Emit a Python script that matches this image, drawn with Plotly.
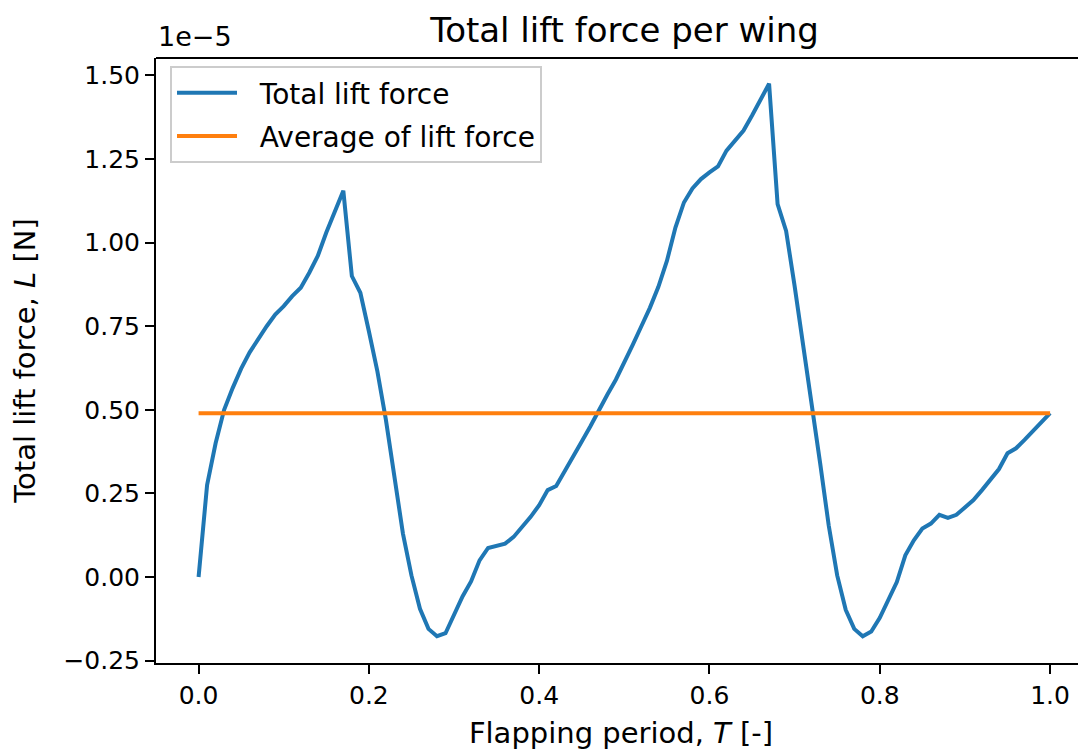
import plotly.graph_objects as go

# Flapping period samples
period = [0.00, 0.01, 0.02, 0.03, 0.04, 0.05, 0.06, 0.07, 0.08, 0.09,
          0.10, 0.11, 0.12, 0.13, 0.14, 0.15, 0.16, 0.17, 0.18, 0.19,
          0.20, 0.21, 0.22, 0.23, 0.24, 0.25, 0.26, 0.27, 0.28, 0.29,
          0.30, 0.31, 0.32, 0.33, 0.34, 0.35, 0.36, 0.37, 0.38, 0.39,
          0.40, 0.41, 0.42, 0.43, 0.44, 0.45, 0.46, 0.47, 0.48, 0.49,
          0.50, 0.51, 0.52, 0.53, 0.54, 0.55, 0.56, 0.57, 0.58, 0.59,
          0.60, 0.61, 0.62, 0.63, 0.64, 0.65, 0.66, 0.67, 0.68, 0.69,
          0.70, 0.71, 0.72, 0.73, 0.74, 0.75, 0.76, 0.77, 0.78, 0.79,
          0.80, 0.81, 0.82, 0.83, 0.84, 0.85, 0.86, 0.87, 0.88, 0.89,
          0.90, 0.91, 0.92, 0.93, 0.94, 0.95, 0.96, 0.97, 0.98, 0.99,
          1.00]

# Total lift force, in units of 1e-5 N
lift_e5 = [0.000, 0.275, 0.400, 0.500, 0.565, 0.623, 0.672, 0.713, 0.750, 0.785,
           0.810, 0.840, 0.865, 0.910, 0.960, 1.030, 1.090, 1.155, 0.900, 0.850,
           0.735, 0.615, 0.470, 0.305, 0.130, 0.005, -0.095, -0.155, -0.177, -0.168,
           -0.110, -0.058, -0.013, 0.050, 0.087, 0.094, 0.100, 0.120, 0.150, 0.180,
           0.215, 0.260, 0.272, 0.315, 0.360, 0.405, 0.450, 0.500, 0.545, 0.590,
           0.640, 0.695, 0.750, 0.805, 0.868, 0.945, 1.045, 1.120, 1.162, 1.190,
           1.210, 1.228, 1.275, 1.303, 1.335, 1.380, 1.428, 1.475, 1.115, 1.035,
           0.870, 0.700, 0.515, 0.340, 0.155, 0.005, -0.098, -0.155, -0.177, -0.163,
           -0.122, -0.070, -0.015, 0.065, 0.110, 0.145, 0.160, 0.186, 0.177, 0.186,
           0.208, 0.230, 0.260, 0.290, 0.323, 0.370, 0.385, 0.410, 0.436, 0.462,
           0.490]

average_e5 = 0.49

x_tick_vals = [0.0, 0.2, 0.4, 0.6, 0.8, 1.0]
x_tick_text = ["0.0", "0.2", "0.4", "0.6", "0.8", "1.0"]
y_tick_vals_e5 = [-0.25, 0.00, 0.25, 0.50, 0.75, 1.00, 1.25, 1.50]
y_tick_text = ["\u22120.25", "0.00", "0.25", "0.50", "0.75", "1.00", "1.25", "1.50"]

SCALE = 1e-5
lift = [v * SCALE for v in lift_e5]
avg = [average_e5 * SCALE for _ in period]

FONT = "DejaVu Sans"
W, H = 1078, 743  # page body adds an 8px offset
PAD = "\u00a0\u00a0"

fig = go.Figure()
fig.add_trace(go.Scatter(x=period, y=lift, mode="lines", name=PAD + "Total lift force",
                         legendgroup="a",
                         line=dict(color="#1f77b4", width=4)))
fig.add_trace(go.Scatter(x=period, y=avg, mode="lines", name=PAD + "Average of lift force",
                         legendgroup="b",
                         line=dict(color="#ff7f0e", width=4)))

axis_common = dict(showgrid=False, zeroline=False, showline=True, linecolor="black",
                   linewidth=2, ticks="outside", ticklen=9, tickwidth=2, tickcolor="black",
                   tickfont=dict(family=FONT, size=25, color="black"))

fig.update_layout(
    width=W, height=H,
    margin=dict(l=148, r=0, t=50, b=88),
    paper_bgcolor="white", plot_bgcolor="white",
    font=dict(family=FONT, color="black"),
    title=dict(text="Total lift force per wing", x=(624.5 - 8) / W, xanchor="center",
               y=1 - 22 / H, yanchor="middle", yref="container",
               font=dict(family=FONT, size=34, color="black")),
    xaxis=dict(range=[-0.05, -0.05 + 930 / 851.5], tickvals=x_tick_vals, ticktext=x_tick_text,
               title=dict(text="Flapping period, <i>T</i> [-]", standoff=14,
                          font=dict(family=FONT, size=29, color="black")),
               **axis_common),
    yaxis=dict(range=[-0.257 * SCALE, 1.552 * SCALE],
               tickvals=[v * SCALE for v in y_tick_vals_e5], ticktext=y_tick_text,
               title=dict(text="Total lift force, <i>L</i> [N]", standoff=20,
                          font=dict(family=FONT, size=29, color="black")),
               **axis_common),
    legend=dict(x=14 / 930, y=1 - 8 / 605, xanchor="left", yanchor="top",
                bgcolor="rgba(255,255,255,0.8)", bordercolor="#cccccc", borderwidth=2,
                traceorder="grouped", tracegroupgap=4, itemwidth=60,
                font=dict(family=FONT, size=28, color="black")),
    showlegend=True,
)

fig.add_shape(type="line", xref="paper", yref="paper", x0=0, x1=1, y0=1, y1=1,
              line=dict(color="black", width=2))
fig.add_annotation(text="1e\u22125", xref="paper", yref="paper", x=0, y=1,
                   xanchor="left", yanchor="bottom", yshift=4, showarrow=False,
                   font=dict(family=FONT, size=27, color="black"))

fig.write_html("out.html")
